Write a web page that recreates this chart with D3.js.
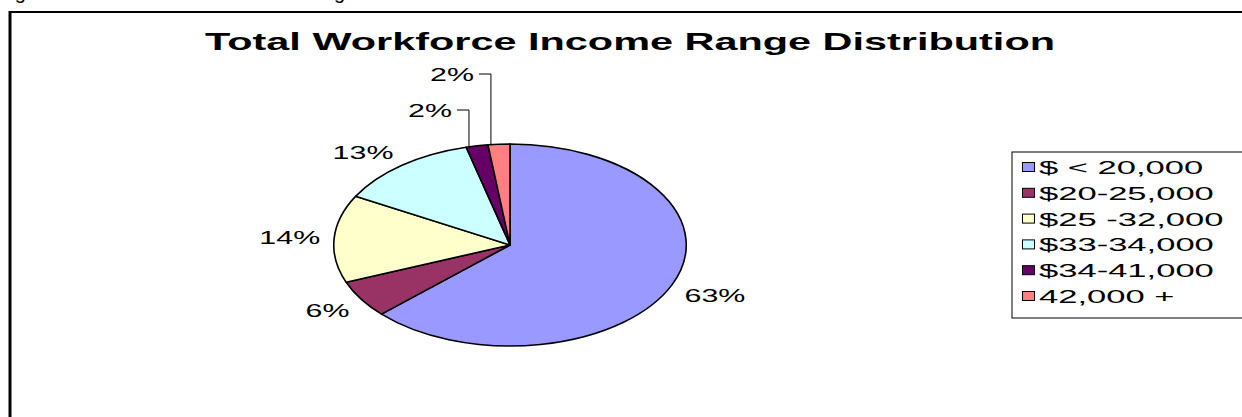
<!DOCTYPE html>
<html>
<head>
<meta charset="utf-8">
<script src="https://cdn.jsdelivr.net/npm/d3@7"></script>
<style>
  body { margin: 0; background: #fff; }
  svg { display: block; font-family: Arial, "Liberation Sans", sans-serif; }
</style>
</head>
<body>
<svg id="chart"></svg>
<script>
const categories = ["$ < 20,000", "$20-25,000", "$25 -32,000", "$33-34,000", "$34-41,000", "42,000 +"];
const shares = [63, 6, 14, 13, 2, 2];
const colors = ["#9999FF", "#993366", "#FFFFCC", "#CCFFFF", "#660066", "#FF8080"];
const title = "Total Workforce Income Range Distribution";

const w = 1242;
const h = 417;
const cx = 510, cy = 245, r = 101;
const sx = 1.745; // the picture is stretched sideways

const svg = d3.select("#chart").attr("width", w).attr("height", h);

// caption of the page above the chart, only its descenders show
svg.append("text")
    .attr("x", -2).attr("y", -1)
    .attr("font-size", 20)
    .text("Figure 2: Total Workforce Income Range Distribution");

// outer frame
svg.append("rect")
    .attr("x", 10).attr("y", 12)
    .attr("width", 1260).attr("height", 440)
    .attr("fill", "none").attr("stroke", "#000").attr("stroke-width", 2);
svg.append("line")
    .attr("x1", 10).attr("x2", 10).attr("y1", 11).attr("y2", h)
    .attr("stroke", "#000").attr("stroke-width", 3);

// title
svg.append("text")
    .attr("x", 205).attr("y", 50)
    .attr("font-size", 24).attr("font-weight", "bold")
    .attr("textLength", 850).attr("lengthAdjust", "spacingAndGlyphs")
    .text(title);

// pie
const pie = d3.pie().sort(null).value(d => d);
const arcs = pie(shares);
const arc = d3.arc().innerRadius(0).outerRadius(r);

const g = svg.append("g").attr("transform", `translate(${cx},${cy}) scale(${sx},1)`);
g.selectAll("path").data(arcs).enter().append("path")
    .attr("d", arc)
    .attr("fill", (d, i) => colors[i])
    .attr("stroke", "#000")
    .attr("stroke-width", 1.6)
    .attr("vector-effect", "non-scaling-stroke")
    .attr("stroke-linejoin", "round");

// labels
const labelSize = 19, labelStretch = 1.6;
const pct = d => Math.round((d.endAngle - d.startAngle) / (2 * Math.PI) * 100) + "%";
let smallCount = 0;
arcs.forEach((d, i) => {
    const a = (d.startAngle + d.endAngle) / 2;
    let tx, ty, anchor;
    if (d.value < 5) {
        // small slices: label stacked above, with a leader line
        const vx = cx + sx * r * Math.sin(a) - 8;
        const py = cy - r * Math.cos(a);
        const ly = cy - r - 34 - smallCount * 36;
        smallCount++;
        svg.append("polyline")
            .attr("points", `${vx - 12},${ly} ${vx},${ly} ${vx},${py + 1}`)
            .attr("fill", "none").attr("stroke", "#000").attr("stroke-width", 1);
        tx = vx - 17; ty = ly; anchor = "end";
    } else {
        // nearest corner of the label box sits just outside the ellipse
        const rl = 109;
        tx = cx + sx * rl * Math.sin(a);
        const py = cy - rl * Math.cos(a);
        anchor = Math.sin(a) >= 0 ? "start" : "end";
        ty = py - 7 * Math.max(-1, Math.min(1, Math.cos(a) * 3));
    }
    svg.append("text")
        .attr("transform", `translate(${tx},${ty + labelSize * 0.36}) scale(${labelStretch},1)`)
        .attr("text-anchor", anchor)
        .attr("font-size", labelSize)
        .text(pct(d));
});

// legend
const lx = 1012, ly0 = 152, rowH = 25.8;
svg.append("rect")
    .attr("x", lx).attr("y", ly0)
    .attr("width", 260).attr("height", 166)
    .attr("fill", "#fff").attr("stroke", "#000").attr("stroke-width", 1);
const legend = svg.selectAll(".leg").data(categories).enter().append("g")
    .attr("class", "leg")
    .attr("transform", (d, i) => `translate(${lx + 10},${ly0 + 15 + i * rowH})`);
legend.append("rect")
    .attr("x", 0.5).attr("y", -4.5).attr("width", 12).attr("height", 9)
    .attr("fill", (d, i) => colors[i]).attr("stroke", "#000").attr("stroke-width", 1);
legend.append("text")
    .attr("transform", "translate(17,7) scale(1.82,1)")
    .attr("font-size", 19)
    .text(d => d);
</script>
</body>
</html>
